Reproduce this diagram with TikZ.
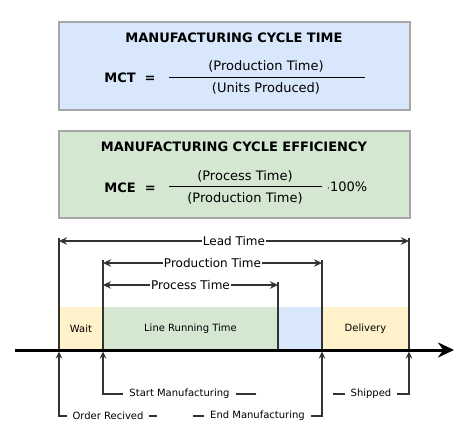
\documentclass[tikz,border=0pt]{standalone}
\usepackage{fontspec}
\setmainfont{DejaVu Sans}
\usetikzlibrary{arrows.meta}
\definecolor{mctblue}{HTML}{D8E7FB}
\definecolor{mcegreen}{HTML}{D3E7D1}
\definecolor{waityellow}{HTML}{FFF1C9}
\begin{document}
\begin{tikzpicture}[>={Stealth[length=8pt,width=7.5pt]},x=1pt,y=-1pt,
  formbox/.style={draw=black!35,line width=1.2pt},
  title/.style={font=\bfseries\fontsize{13}{15}\selectfont},
  formula/.style={font=\fontsize{13}{15}\selectfont},
  band/.style={minimum height=43pt,inner sep=0pt,font=\fontsize{10}{12}\selectfont},
  dim/.style={<->,line width=1.1pt,draw=black!80},
  tickline/.style={line width=1.1pt,draw=black!80},
  up/.style={-{Stealth[length=7pt,width=6.5pt]},line width=1.1pt,draw=black!80,shorten >=1.5pt},
  dimlbl/.style={fill=white,inner xsep=1pt,inner ysep=0pt,font=\fontsize{12}{14}\selectfont},
  lbl/.style={fill=white,inner xsep=6pt,inner ysep=1pt,font=\fontsize{10}{12}\selectfont}]
\useasboundingbox (0,0) rectangle (474,428);

% formulas
\draw[formbox,fill=mctblue] (59,22) rectangle (410,110);
\node (mcttitle) at (234,38)[title]{MANUFACTURING CYCLE TIME};
\node (mct) at (130,78)[title]{MCT\ \ =};
\node (mctnum) at (266,66)[formula]{(Production Time)};
\node (mctden) at (266,88)[formula]{(Units Produced)};
\draw[line width=0.9pt] (169,77)--(365,77);

\draw[formbox,fill=mcegreen] (59,131) rectangle (410,218);
\node (mcetitle) at (234,147)[title]{MANUFACTURING CYCLE EFFICIENCY};
\node (mce) at (130,188)[title]{MCE\ \ =};
\node (mcenum) at (245,176)[formula]{(Process Time)};
\node (mceden) at (245,198)[formula]{(Production Time)};
\node (pct) at (347,187)[formula]{$\cdot$100\%};
\draw[line width=0.9pt] (169,186)--(322,186);

% time line
\node (wait) at (81,328.5)[band,fill=waityellow,minimum width=44pt]{Wait};
\node (run) at (190.5,328.5)[band,fill=mcegreen,minimum width=175pt]{Line Running Time};
\node (idle) at (300,328.5)[band,fill=mctblue,minimum width=44pt]{};
\node (deliv) at (365.5,328.5)[band,fill=waityellow,minimum width=87pt]{Delivery};

\coordinate (t0) at (59,350);
\coordinate (t1) at (103,350);
\coordinate (t2) at (278,350);
\coordinate (t3) at (322,350);
\coordinate (t4) at (409,350);

\draw[tickline](59,238)--(t0);
\draw[tickline](103,260)--(t1);
\draw[tickline](278,282)--(t2);
\draw[tickline](322,260)--(t3);
\draw[tickline](409,238)--(t4);

\draw[dim](59,241)--node[dimlbl]{Lead Time}(409,241);
\draw[dim](103,263)--node[dimlbl]{Production Time}(322,263);
\draw[dim](103,285)--node[dimlbl]{Process Time}(278,285);

\coordinate (axstart) at (15,350);
\coordinate (axend) at (454,350);
\draw[-{Stealth[length=16pt,width=15pt]},line width=3pt](axstart)--(axend);

% events
\draw[up](157,416)--node[lbl]{Order Recived}(59,416)--(t0);
\draw[up](256,394)--node[lbl]{Start Manufacturing}(103,394)--(t1);
\draw[up](193,416)--node[lbl]{End Manufacturing}(322,416)--(t3);
\draw[up](333,394)--node[lbl]{Shipped}(409,394)--(t4);
\end{tikzpicture}
\end{document}
